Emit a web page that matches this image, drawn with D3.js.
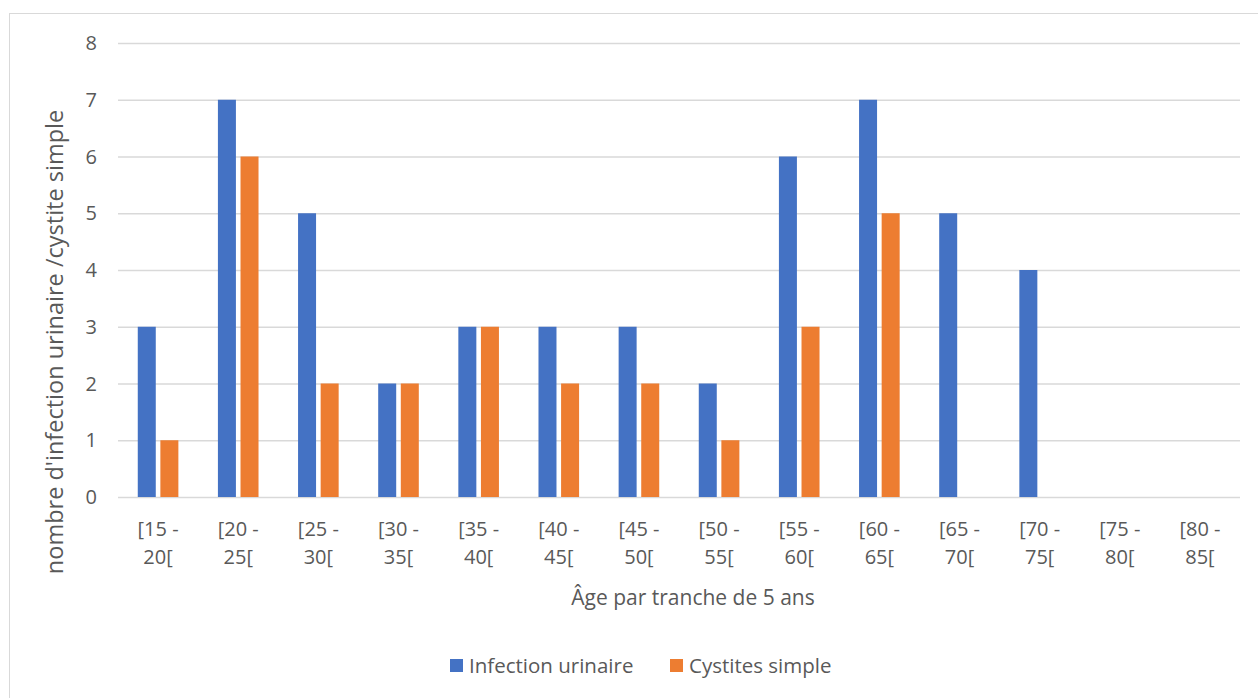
<!DOCTYPE html>
<html>
<head>
<meta charset="utf-8">
<script src="https://cdn.jsdelivr.net/npm/d3@7"></script>
<style>
  body { margin: 0; background: #fff; }
  text { font-family: "Open Sans", sans-serif; fill: #595959; }
</style>
</head>
<body>
<div id="chart"></div>
<script>
// données
const categories = ['[15 - 20[', '[20 - 25[', '[25 - 30[', '[30 - 35[', '[35 - 40[', '[40 - 45[', '[45 - 50[',
  '[50 - 55[', '[55 - 60[', '[60 - 65[', '[65 - 70[', '[70 - 75[', '[75 - 80[', '[80 - 85['];
const infectionUrinaire = [3, 7, 5, 2, 3, 3, 3, 2, 6, 7, 5, 4, 0, 0];
const cystitesSimple = [1, 6, 2, 2, 3, 2, 2, 1, 3, 5, 0, 0, 0, 0];
const seriesNames = ['Infection urinaire', 'Cystites simple'];
const seriesColors = ['#4472C4', '#ED7D31'];
const yTicks = [0, 1, 2, 3, 4, 5, 6, 7, 8];

const width = 1258, height = 698;
const margin = { left: 118, right: 18, top: 43, bottom: 201 };

const svg = d3.select('#chart').append('svg')
  .attr('width', width)
  .attr('height', height);

// cadre du graphique
svg.append('rect')
  .attr('x', 9.5).attr('y', 13.5)
  .attr('width', 1260).attr('height', 700)
  .attr('fill', 'none')
  .attr('stroke', '#d9d9d9');

const x = d3.scaleBand()
  .domain(categories)
  .range([margin.left, width - margin.right]);

const y = d3.scaleLinear()
  .domain([0, 8])
  .range([height - margin.bottom, margin.top]);

// grille
svg.append('g')
  .selectAll('line')
  .data(yTicks)
  .join('line')
  .attr('x1', margin.left)
  .attr('x2', width - margin.right)
  .attr('y1', d => y(d) + 0.5)
  .attr('y2', d => y(d) + 0.5)
  .attr('stroke', '#d9d9d9')
  .attr('stroke-width', 1.3);

// étiquettes Y
svg.append('g')
  .selectAll('text')
  .data(yTicks)
  .join('text')
  .attr('x', 97)
  .attr('y', d => y(d))
  .attr('dy', '0.36em')
  .attr('text-anchor', 'end')
  .style('font-size', '20px')
  .text(d => d);

// barres
const barW = 18, gap = 4.6;
const x1 = d3.scaleOrdinal().domain([0, 1]).range([-(barW + gap / 2), gap / 2]);

const groups = svg.append('g')
  .selectAll('g')
  .data(categories.map((c, i) => ({ c, vals: [infectionUrinaire[i], cystitesSimple[i]] })))
  .join('g')
  .attr('transform', d => `translate(${x(d.c) + x.bandwidth() / 2},0)`);

groups.selectAll('rect')
  .data(d => d.vals.map((v, k) => ({ v, k })).filter(e => e.v > 0))
  .join('rect')
  .attr('x', e => x1(e.k))
  .attr('y', e => y(e.v))
  .attr('width', barW)
  .attr('height', e => y(0) - y(e.v))
  .attr('fill', e => seriesColors[e.k]);

// étiquettes X (deux lignes)
const xl = svg.append('g')
  .selectAll('text')
  .data(categories)
  .join('text')
  .attr('text-anchor', 'middle')
  .style('font-size', '20px')
  .attr('transform', d => `translate(${x(d) + x.bandwidth() / 2},0)`);

xl.append('tspan')
  .attr('x', 0).attr('y', 536)
  .text(d => d.split(' - ')[0] + ' -');
xl.append('tspan')
  .attr('x', 0).attr('y', 564)
  .text(d => d.split(' - ')[1]);

// titres des axes
svg.append('text')
  .attr('x', 693)
  .attr('y', 605)
  .attr('text-anchor', 'middle')
  .style('font-size', '21px')
  .text('Âge par tranche de 5 ans');

svg.append('text')
  .attr('transform', 'translate(63,342) rotate(-90)')
  .attr('text-anchor', 'middle')
  .style('font-size', '23.5px')
  .text("nombre d'infection urinaire /cystite simple");

// légende
const legendX = [450, 670];
const legend = svg.append('g')
  .selectAll('g')
  .data(seriesNames)
  .join('g')
  .attr('transform', (d, i) => `translate(${legendX[i]},666)`);

legend.append('rect')
  .attr('x', 0).attr('y', -7)
  .attr('width', 13).attr('height', 13)
  .attr('fill', (d, i) => seriesColors[i]);

legend.append('text')
  .attr('x', 19)
  .attr('y', 0)
  .attr('dy', '0.36em')
  .style('font-size', '20.5px')
  .text(d => d);
</script>
</body>
</html>
